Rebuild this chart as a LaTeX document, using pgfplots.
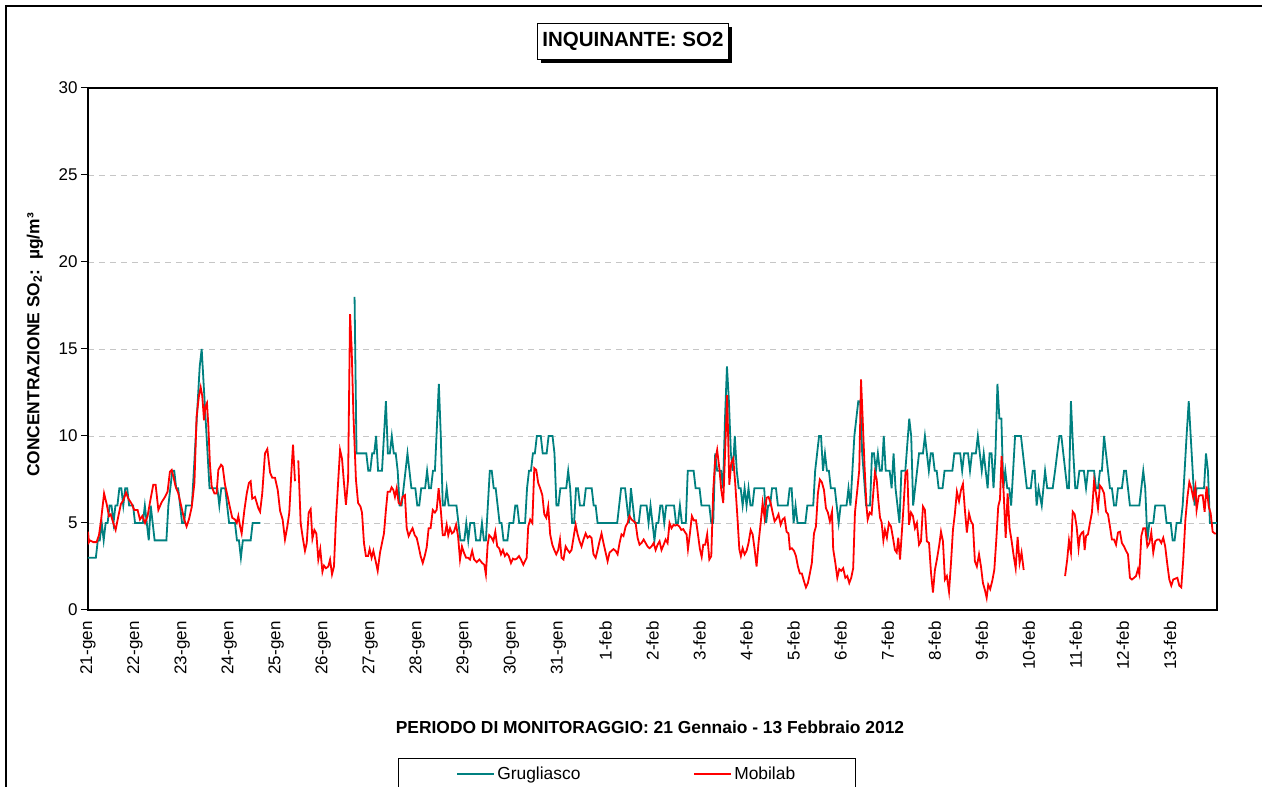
\documentclass[border=0pt]{standalone}
\usepackage{pgfplots}
\pgfplotsset{compat=1.18}
\usepackage{fontspec}
\setmainfont{Liberation Sans}
\usetikzlibrary{shadows}
\definecolor{grug}{HTML}{008080}
\definecolor{mobi}{HTML}{FF0000}
\begin{document}
\begin{tikzpicture}[x=1pt,y=1pt]
\path[use as bounding box] (0,0) rectangle (1262,787);
\draw[line width=1.5pt] (6,781) rectangle (1290,-30);
\begin{axis}[
  at={(88pt,177pt)}, anchor=south west,
  width=1129pt, height=522pt, scale only axis,
  xmin=0, xmax=576, ymin=0, ymax=30,
  xtick={0,24,...,552},
  xticklabels={21-gen,22-gen,23-gen,24-gen,25-gen,26-gen,27-gen,28-gen,29-gen,30-gen,31-gen,1-feb,2-feb,3-feb,4-feb,5-feb,6-feb,7-feb,8-feb,9-feb,10-feb,11-feb,12-feb,13-feb},
  x tick label style={rotate=90, anchor=east, xshift=-1pt},
  xtick style={draw=none},
  ytick={0,5,...,30},
  ytick pos=left, tick align=outside, major tick length=7pt,
  ytick style={line width=1pt, black},
  ymajorgrids, grid style={dash pattern=on 6pt off 5pt, gray!45, line width=0.8pt},
  axis line style={line width=1.5pt},
  tick label style={font=\fontsize{17}{20}\selectfont},
  /pgf/number format/assume math mode=true,
  unbounded coords=jump,
  title={INQUINANTE: SO2},
  title style={at={(0.4827,1.0785)}, anchor=center, draw, line width=1pt, fill=white,
    font=\bfseries\fontsize{20.5}{24}\selectfont, inner xsep=5pt, minimum height=36pt,
    drop shadow={shadow xshift=4pt, shadow yshift=-4pt, fill=black, opacity=1}},
  xlabel={PERIODO DI MONITORAGGIO: 21 Gennaio - 13 Febbraio 2012},
  xlabel style={at={(0.4978,-0.2241)}, anchor=center, font=\bfseries\fontsize{17.4}{20}\selectfont},
  ylabel={CONCENTRAZIONE SO\textsubscript{2}:\ \ µg/m³},
  ylabel style={at={(-0.0470,0.5077)}, anchor=center, font=\bfseries\fontsize{17.4}{20}\selectfont},
  legend style={at={(0.2746,-0.2835)}, anchor=north west, draw=black, line width=1pt,
    legend columns=2, font=\fontsize{17.4}{20}\selectfont, inner xsep=58pt, inner ysep=6.5pt,
    /tikz/every even column/.append style={column sep=111pt}},
  legend image code/.code={\draw[#1, line width=1.8pt] (0pt,0pt) -- (37pt,0pt);},
]
\addplot[color=grug, line width=1.8pt] table {
x y
0 3
4 3
5 4
6 4
7 5
8 4
9 5
10 5
11 6
12 6
13 5
14 6
15 6
16 7
17 7
18 6
19 7
20 7
21 6
23 6
24 5
28 5
29 6
30 5
31 4
32 6
33 5
34 4
40 4
41 6
42 7
43 8
44 8
45 7
46 7
47 6
48 5
49 5
50 6
53 6
54 8
55 10
56 12
57 14
58 15
59 13
60 11
61 9
62 7
64 7
66 7
67 6
68 7
70 7
71 6
72 5
75 5
76 4
77 4
78 3
79 4
83 4
84 5
88 5
110 nan
136 18
137 9
142 9
143 8
144 8
145 9
146 9
147 10
148 8
150 8
151 10
152 12
153 9
154 9
155 10
156 9
157 9
158 8
159 6
160 6
161 7
162 8
163 9
164 8
165 7
167 7
168 6
169 6
170 7
172 7
173 8
174 7
175 7
176 8
177 8
179 13
180 10
181 6
182 6
183 7
184 6
188 6
189 5
190 4
192 4
193 5
194 4
195 5
197 5
198 4
200 4
201 5
202 4
203 4
205 8
206 8
207 7
208 7
209 6
210 5
211 5
212 4
214 4
215 5
217 5
218 6
219 6
220 5
223 5
224 7
225 8
226 8
227 9
228 9
229 10
231 10
232 9
234 9
235 10
237 10
238 9
239 6
240 6
241 7
244 7
245 8
246 7
247 5
248 5
249 7
250 7
251 6
253 6
254 7
257 7
258 6
259 6
260 5
270 5
271 6
272 7
274 7
275 6
276 5
277 7
278 6
279 5
281 5
282 6
285 6
286 5
287 6
288 5
289 4
290 5
291 5
292 6
293 6
294 5
295 6
299 6
300 5
301 5
302 6
303 5
305 5
306 8
309 8
310 7
312 7
313 6
317 6
318 5
319 5
320 9
321 8
323 8
324 7
325 11
326 14
327 12
328 9
329 8
330 10
331 8
332 7
333 7
334 6
335 7
336 6
337 7
338 6
339 6
340 7
345 7
346 5
347 6
348 6
349 7
351 7
352 6
357 6
358 7
359 7
360 5
361 6
362 5
366 5
367 6
370 6
371 8
373 10
374 10
375 8
376 9
377 8
378 8
379 7
381 7
382 6
383 5
384 6
387 6
388 7
389 6
390 8
391 10
393 12
394 12
395 9
397 6
399 6
400 9
401 9
402 8
403 9
404 8
405 8
406 10
407 8
409 8
410 7
411 9
412 7
414 5
415 8
417 8
419 11
420 10
421 6
423 8
424 9
426 9
427 10
428 9
429 8
430 9
431 9
432 8
433 8
434 7
436 7
437 8
441 8
442 9
445 9
446 8
447 9
449 9
450 8
451 9
453 9
454 10
455 9
456 8
457 9
459 7
460 9
461 9
462 7
463 9
464 13
465 11
466 11
467 7
468 8
469 7
470 7
471 6
472 8
473 10
476 10
477 9
478 8
479 7
481 7
482 8
483 8
484 6
485 7
486.6 6
488.3 8
489.4 7
492.2 7
493.4 8
494.5 9
495.6 10
496.6 10
497.6 9
498.6 8
499.6 7
500.5 7
501.5 12
502.7 9
503.7 7
504.7 7
505.8 8
508.1 8
509.2 7
510.2 8
513.3 8
514.3 7
515.3 7
516.3 8
517.3 8
518.4 10
519.4 9
520.4 8
521.4 7
522.4 7
523.5 6
524.5 6
525.5 7
527.5 7
528.6 8
529.6 8
530.6 7
531.6 6
536.4 6
537.4 7
538.4 8
539.4 7
540.5 4
541.5 5
543.5 5
544.5 6
549.3 6
550.3 5
552.4 5
553.4 4
554.4 4
555.4 5
557.5 5
558.5 6
559.5 8
560.5 10
561.6 12
562.6 10
563.6 8
564.6 6
565.6 7
569.4 7
570.4 9
571.4 8
572.4 5
576 5
};
\addlegendentry{Grugliasco}
\addplot[color=mobi, line width=1.8pt] table {
x y
0 4.5
0.5 3.9
1 4.0
2.7 3.9
4.4 3.9
5.6 4.3
6.6 5.1
8.2 6.7
9.5 6.1
10.7 5.4
11.6 5.5
12.9 5.0
14.1 4.6
15.5 5.4
16.8 6.1
18 6.3
19.4 6.75
20.6 6.4
22.3 6.1
23.6 5.75
25.3 5.75
26.5 5.2
27.7 5.4
29.1 5.0
30.4 5.4
31.8 6.3
33.3 7.2
34.5 7.2
35.9 5.75
37.6 6.2
39.3 6.5
40.6 6.8
41.8 7.95
42.7 8.05
43.5 7.7
44.7 7.1
46.1 6.7
47.8 5.85
49.1 5.2
50.3 4.8
51.5 5.2
52.9 5.9
54.3 7.3
55.4 11.1
56.6 12.3
57.5 12.8
58.3 12.3
59.2 10.9
59.9 11.7
60.7 11.9
61.4 10.6
62.2 8.4
63.1 7.1
64.5 6.7
65.6 6.7
66.5 8.05
67.9 8.35
68.7 8.25
69.9 7.2
71.3 6.5
72.4 5.9
73.6 5.3
75 5.2
75.9 5.0
76.7 5.4
77.6 4.8
78.4 4.4
79.8 5.75
81 6.7
82.1 7.3
83 7.4
83.8 6.4
85.2 6.5
86.9 5.85
87.8 5.65
88.9 6.7
90.3 9.0
91.5 9.25
92.9 7.9
94 7.6
95.4 7.6
96.8 6.9
98 5.7
99.3 5.2
100.5 4.05
101.7 4.8
102.7 5.6
103.9 8.2
104.6 9.5
105.6 7.4
106.5 nan
107.3 8.6
108.5 5.0
109.5 4.2
110.7 3.4
111.6 3.85
112.6 5.6
113.6 5.8
114.5 4.1
115.5 4.6
116.5 4.4
117.5 2.9
118.5 3.5
119.6 2.2
120.4 2.55
121.4 2.4
122.6 2.5
123.5 2.9
124.5 2.05
125.5 2.5
126.5 5.2
127.7 7.5
128.6 9.2
129.6 8.7
130.6 7.3
131.6 6.05
132.7 7.5
133.7 17.0
134.5 15.1
135.4 11.3
136.7 7.5
137.8 6.15
139 5.95
139.8 5.6
140.8 3.85
141.8 3.1
142.9 3.1
143.7 3.5
144.7 3.0
145.6 3.4
146.6 2.9
147.8 2.25
149 3.3
150 3.85
151 4.4
152 5.75
152.9 6.8
154.1 6.8
154.9 7.05
155.8 6.9
156.6 6.5
157.5 7.0
158.5 6.15
159.5 6.05
160.5 6.5
161.7 6.6
162.6 4.7
163.6 4.25
164.6 4.5
165.6 4.7
166.7 4.3
167.7 4.15
168.7 3.65
169.7 3.1
170.8 2.7
171.8 3.1
172.8 3.6
173.8 4.7
174.8 4.7
175.9 5.75
177 5.6
177.9 5.76
178.9 7.0
180 5.75
181 4.3
182 4.3
183 4.9
183.8 4.3
184.7 4.7
185.7 4.4
186.7 4.5
187.8 4.9
188.8 4.25
189.8 2.9
190.8 3.65
191.8 3.3
192.9 3.0
193.9 3.0
194.9 2.9
196 3.4
197 2.9
198.3 2.75
199.7 2.9
201.1 2.7
202.2 2.6
203 2.05
203.9 3.75
204.7 4.3
205.9 4.15
206.8 3.95
207.8 4.5
208.8 3.65
209.8 3.55
210.7 3.2
211.7 3.45
212.7 3.1
213.7 3.25
214.7 3.1
215.8 2.7
216.8 2.95
217.8 2.9
218.8 2.95
219.9 3.1
220.9 2.9
222.1 2.6
222.9 2.8
223.8 3.0
224.6 4.8
225.6 5.2
226.7 5.0
227.7 8.15
228.7 8.05
229.7 7.3
230.7 7.0
231.8 6.6
232.8 5.5
233.8 5.3
234.8 5.95
235.8 4.35
236.9 3.75
237.9 3.45
238.9 3.2
239.9 3.45
240.8 4.05
241.6 3.0
242.6 2.9
243.7 3.65
244.7 3.45
245.7 3.3
246.7 3.45
247.7 4.15
248.8 4.9
249.8 4.35
250.8 3.95
251.8 3.65
252.8 4.05
253.9 4.4
254.9 4.15
255.9 4.25
256.9 4.15
257.9 3.2
259 3.0
260 3.45
261 3.95
262 4.4
263 3.85
264.1 3.3
265.1 2.8
266.1 3.3
267.1 3.4
268.1 3.5
269.2 3.4
270.2 3.2
271.2 3.85
272.2 4.35
273.2 4.25
274.3 4.8
275.3 5.0
276.3 5.4
277.3 5.2
278.4 5.1
279.4 5.0
280.4 4.15
281.4 3.75
282.4 3.85
283.5 4.05
284.5 3.85
285.5 3.65
286.5 3.55
287.5 3.65
288.6 3.85
289.6 3.45
290.6 3.75
291.6 3.95
292.6 3.45
293.7 3.75
294.7 4.05
295.7 3.85
296.7 5.0
297.7 4.7
298.8 4.9
299.6 4.85
300.6 4.9
301.7 4.8
302.7 4.6
303.7 4.65
304.7 4.45
305.4 4.35
306.1 3.5
307.1 4.4
308.1 5.4
309.1 5.15
310.2 5.15
311.2 4.35
312.2 3.5
313.1 3.05
313.9 3.75
314.9 3.75
315.9 4.35
317 2.9
318 3.1
319 6.9
320 8.6
321 9.2
322.1 8.15
323.1 6.9
324.1 6.15
325.1 9.2
326.1 12.35
327.2 7.2
328.2 8.45
329.2 8.7
330.2 7.3
331.3 5.4
332.3 3.5
333.1 3.1
334 3.55
335 3.2
336 3.4
337 3.85
338.1 4.6
339.1 4.35
340.1 3.5
341.1 2.5
342.1 3.85
343.2 5.0
344.2 6.15
345.2 5.3
346.2 6.45
347.2 6.5
348.3 6.15
349.3 5.6
350.3 5.1
351.3 5.25
352.3 5.5
353.4 4.9
354.4 5.2
355.4 5.3
356.4 4.5
357.4 4.4
358.1 3.5
359.1 3.55
360.2 3.4
361.2 3.1
362.2 2.5
363.2 2.1
364.2 2.1
365.3 1.65
366.3 1.3
367.3 1.55
368.3 2.1
369.3 2.7
370.4 4.4
371.4 4.8
372.4 6.7
373.4 7.5
374.4 7.35
375.5 6.9
376.5 5.85
377.5 5.6
378.5 5.1
379.6 5.65
380.2 3.5
381.3 2.7
382.3 1.85
383.3 2.35
384.3 2.25
385.3 2.4
386.4 1.85
387.4 1.95
388.4 1.55
389.4 1.85
390.4 2.4
391.3 5.6
392.5 6.9
393.5 8.05
394.4 13.25
395.2 11.1
396.2 8.25
397.2 5.95
397.8 5.2
398.8 5.6
399.8 5.5
400.7 6.8
401.5 7.9
402.4 7.5
403.2 6.35
404.1 5.3
404.9 5.05
405.8 4.0
406.6 4.6
407.6 4.15
408.6 5.0
409.7 4.8
410.7 4.15
411.7 3.45
412.6 3.3
413.4 4.15
414.3 2.9
415.1 4.25
416.1 5.95
417.1 7.9
418 8.0
418.9 4.9
419.9 5.6
420.9 5.4
421.9 4.7
422.9 5.0
424 3.75
425 3.95
426 5.95
427 5.75
428 3.95
429.1 3.85
430.1 2.15
431.1 1.0
432.1 2.3
433.1 2.9
434.2 3.65
435.2 4.5
436.2 3.95
437.2 1.75
438.2 1.95
439.3 1.05
440.3 2.7
441.3 4.6
442.3 5.55
443.3 6.8
444.4 6.25
445.4 6.9
446.4 7.25
447.4 5.75
448.4 4.45
449.5 5.55
450.5 5.1
451.5 4.9
452.5 2.8
453.5 2.5
454.6 3.2
455.6 2.5
456.6 1.55
457.6 1.15
458.5 0.7
459.3 1.45
460.3 1.2
461.4 1.7
462.4 2.3
463.4 4.0
464.4 5.95
465.3 6.35
466.1 8.85
467.1 6.9
468.2 4.15
469.2 6.7
470.2 4.7
471.2 4.0
472.3 3.1
473.3 2.4
474.3 4.2
475.3 2.7
476.3 3.3
477.4 2.3
488 nan
498.5 1.95
499.6 2.9
500.5 4.0
501.5 3.3
502.4 5.65
503.4 5.5
504.4 4.8
505.4 3.55
506.1 4.25
507.1 4.45
507.8 4.5
508.5 3.45
509.2 4.25
510.2 4.35
511.2 5.0
512.2 5.6
513.3 7.4
514.3 6.7
515.3 5.85
516.3 7.15
517.3 7.0
518.4 6.7
519.4 5.65
520.4 5.5
521.4 4.8
522.4 4.05
523.5 4.05
524.5 3.75
525.5 4.45
526.5 4.5
527.5 3.85
528.6 3.65
529.6 3.4
530.6 3.2
531.6 1.85
532.6 1.75
533.7 1.85
534.7 1.95
535.7 2.35
536.4 2.05
537.4 4.25
538.4 4.7
539.4 4.7
540.5 3.65
541.5 3.85
542.5 4.45
543.5 3.3
544.5 3.95
545.6 4.05
546.6 4.05
547.6 3.85
548.6 4.15
549.6 3.65
550.7 2.6
551.7 1.75
552.7 1.4
553.7 1.75
554.7 1.8
555.8 1.85
556.8 1.4
557.8 1.3
558.8 2.9
559.9 5.2
560.9 6.45
561.9 7.35
562.9 7.0
563.9 6.45
565 7.1
565.6 5.75
566.7 6.55
567.7 6.6
568.7 6.6
569.7 5.65
570.7 7.1
571.8 5.95
572.8 5.55
573.8 4.5
574.8 4.4
575.5 4.4
};
\addlegendentry{Mobilab}
\end{axis}
\end{tikzpicture}
\end{document}
